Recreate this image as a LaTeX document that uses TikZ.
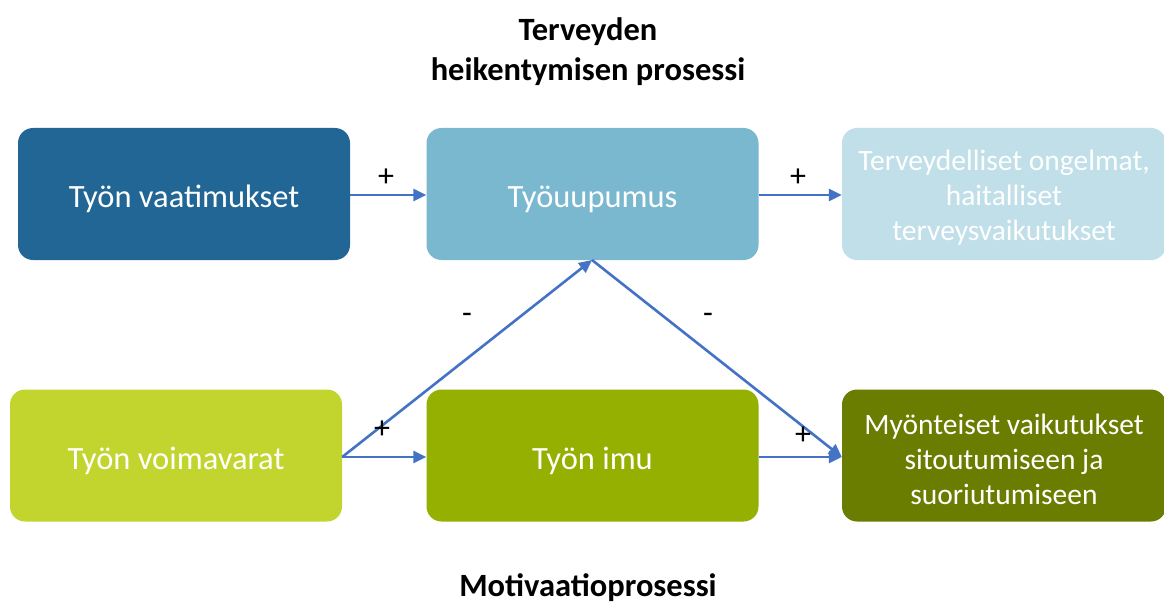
\documentclass[tikz,border=0pt]{standalone}
\usepackage{fontspec}
\setmainfont{Carlito}
\usetikzlibrary{arrows.meta}
\definecolor{demandblue}{HTML}{216694}
\definecolor{burnblue}{HTML}{7AB8D0}
\definecolor{healthblue}{HTML}{C0DFE8}
\definecolor{resgreen}{HTML}{C2D52F}
\definecolor{engreen}{HTML}{95B000}
\definecolor{outgreen}{HTML}{6B7D00}
\definecolor{arrowblue}{HTML}{4472C4}
\tikzset{
  box/.style={rounded corners=15pt, minimum width=332pt, minimum height=132pt,
    inner sep=0pt, align=center, text=white, font=\fontsize{32.5}{36}\selectfont},
  bigbox/.style={box, text height=34pt, text depth=7pt},
  smallbox/.style={box, minimum width=324pt, font=\fontsize{29.5}{35}\selectfont},
  link/.style={draw=arrowblue, line width=2.6pt, -{Triangle[length=13pt,width=12pt]}},
  sign/.style={font=\fontsize{32}{36}\selectfont, text=black},
  heading/.style={font=\bfseries\fontsize{32.5}{40}\selectfont, align=center}
}
\begin{document}
\begin{tikzpicture}[x=1pt,y=-1pt]
\useasboundingbox (0,0) rectangle (1164,604);
\clip (0,0) rectangle (1164,604);
\fill[white] (0,0) rectangle (1164,604);

% headings
\node[heading] (toptitle) at (588,52) {Terveyden\\heikentymisen prosessi};
\node[heading] (bottitle) at (588,588) {Motivaatioprosessi};

% upper row: health impairment process
\node[bigbox, fill=demandblue] (demands) at (184,194) {Työn vaatimukset};
\node[bigbox, fill=burnblue] (burnout) at (592.5,194) {Työuupumus};
\node[smallbox, fill=healthblue] (health) at (1004,194) {};
\node[text=white, align=center, font=\fontsize{29.5}{35}\selectfont] (healthtext) at (1004,198)
  {Terveydelliset ongelmat,\\haitalliset\\terveysvaikutukset};

% lower row: motivational process
\node[bigbox, fill=resgreen] (resources) at (176,455.5) {Työn voimavarat};
\node[bigbox, fill=engreen] (engage) at (592.5,455.5) {Työn imu};
\node[smallbox, fill=outgreen] (outcome) at (1004,455.5) {};
\node[text=white, align=center, font=\fontsize{29.5}{35}\selectfont] (outcometext) at (1004,459.5)
  {Myönteiset vaikutukset\\sitoutumiseen ja\\suoriutumiseen};

% connectors
\coordinate (bt) at (592,260);
\draw[link] (demands.east |- 0,195) -- (burnout.west |- 0,195);
\draw[link] (burnout.east |- 0,195) -- (health.west |- 0,195);
\draw[link] (resources.east |- 0,457) -- (engage.west |- 0,457);
\draw[link] (engage.east |- 0,457) -- (outcome.west |- 0,457);
\draw[link] (resources.east |- 0,457) -- (bt);
\draw[link] (bt) -- (outcome.west |- 0,457);

% signs
\node[sign] (s1) at (386,178) {+};
\node[sign] (s2) at (798,178) {+};
\node[sign] (s3) at (382,430) {+};
\node[sign] (s4) at (803,436) {+};
\node[sign] (s5) at (467,318) {-};
\node[sign] (s6) at (708,318) {-};
\end{tikzpicture}
\end{document}
